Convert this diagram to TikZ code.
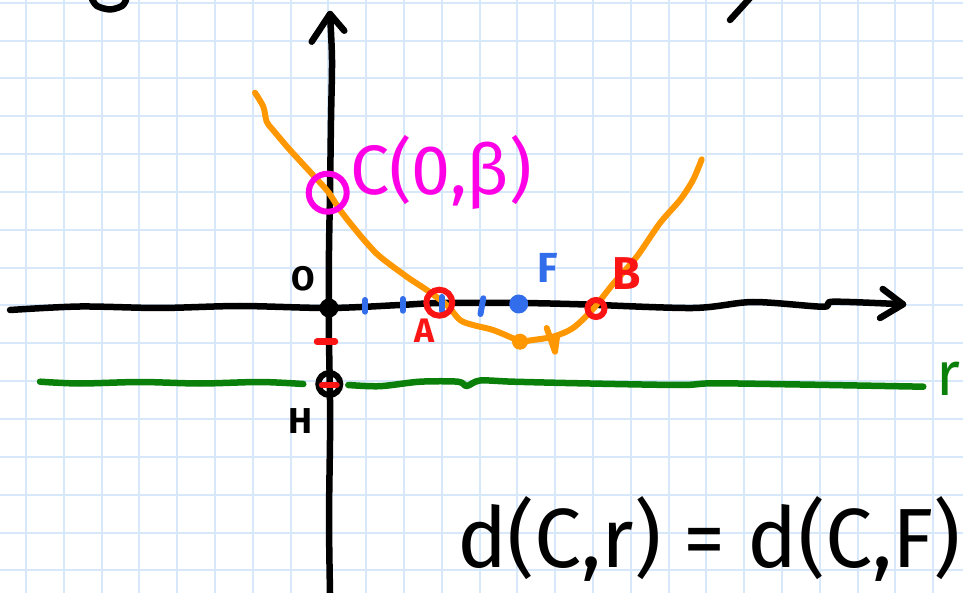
\documentclass[tikz,border=0pt]{standalone}
\usepackage{fontspec}
\setmainfont{Fira Sans}
\definecolor{gridc}{RGB}{214,232,250}
\definecolor{orng}{RGB}{255,152,0}
\definecolor{magc}{RGB}{255,0,230}
\definecolor{bluec}{RGB}{50,110,235}
\definecolor{redc}{RGB}{250,20,20}
\definecolor{greenc}{RGB}{10,128,10}
\tikzset{
  ink/.style={line width=6.5pt, line cap=round, line join=round},
  lbl/.style={inner sep=0pt, outer sep=0pt},
}
\begin{document}
\begin{tikzpicture}[x=1pt,y=-1pt]
\useasboundingbox (0,0) rectangle (963,593);
\fill[white] (0,0) rectangle (963,593);
% grid
\foreach \k in {0,...,24} {\draw[gridc, line width=2pt] ({26+37.8*\k},0) -- ({26+37.8*\k},593);}
\foreach \k in {0,...,15} {\draw[gridc, line width=2pt] (0,{2.7+37.85*\k}) -- (963,{2.7+37.85*\k});}
% stray strokes at top
\draw[ink,black] plot[smooth] coordinates {(92,-1) (97,6) (110,9.5) (122,6) (126,0)};
\draw[ink,black] (730,20) -- (750,-2);
% y axis
\coordinate (ytip) at (330,14);
\draw[ink,black] plot[smooth] coordinates {(330,593) (329,520) (330,440) (330,400) (329,340) (329,308) (329,250) (330,193) (331,120) (332,60) (ytip)};
\draw[ink,black] (311.7,41.7) -- (ytip) -- (344.3,30.7);
% x axis
\coordinate (xtip) at (903,304.3);
\draw[ink,black] plot[smooth] coordinates {(10,310) (80,306.5) (160,308) (240,306) (329,308) (400,305) (440,303) (520,303) (580,304.3) (693,308) (753,302) (823,306.7) (833,301.7) (xtip)};
\draw[ink,black] (882.7,289) -- (xtip) -- (880,318);
% green line r
\draw[ink,greenc] plot[smooth] coordinates {(40,381.7) (80,383.5) (140,382) (200,383.5) (260,382) (303.3,384)};
\draw[ink,greenc] plot[smooth] coordinates {(348.3,385) (380,386.2) (420,381.7) (458,381.7) (466.7,386) (480,380.5) (513,381.7) (580,383.3) (680,385) (713,383.3) (800,384.5) (923.3,386.7)};
% orange parabola
\draw[ink,orng,line width=6pt] plot[smooth] coordinates {(255,92.7) (263.3,106.7) (266.7,121.7) (273,130) (290,150) (313,175) (328,191.7) (340,210) (353,226.7) (366.7,243) (380,256.7) (406.7,276.7) (426.7,290) (446.7,305) (460,320) (473,325) (493,330) (513,338.3) (520,341.7) (533,340) (553,336.7) (573,328) (593,309) (613,284) (636.7,256.7) (660,223) (680,200) (693,180) (701.7,159.3)};
\draw[ink,orng,line width=6pt] (546.7,328) -- (555,351.7) -- (557,337);
\node[circle, fill=orng, minimum size=16pt, inner sep=0pt] (V) at (520,341.7) {};
% magenta circle C
\node[circle, draw=magc, line width=6pt, minimum size=38pt, inner sep=0pt] (C) at (327.7,192.7) {};
% blue ticks and F
\draw[ink,bluec,line width=6pt] (365,300) -- (365,311.7);
\draw[ink,bluec,line width=6pt] (402.7,299) -- (402.7,310.7);
\draw[ink,bluec,line width=6pt] (441.7,297) -- (441.7,310.7);
\draw[ink,bluec,line width=6pt] (483.3,298.3) -- (480.5,314);
\node[circle, fill=bluec, minimum size=19pt, inner sep=0pt] (F) at (518.7,304) {};
% origin
\node[circle, fill=black, minimum size=19pt, inner sep=0pt] (O) at (329,308) {};
% red circles A and B
\node[circle, draw=redc, line width=6pt, minimum size=26pt, inner sep=0pt] (A) at (439.3,302.7) {};
\node[circle, draw=redc, line width=6pt, minimum size=17pt, inner sep=0pt] (B) at (596,308.5) {};
% red dashes and H
\draw[ink,redc] (317,341.7) -- (335,341.7);
\node[circle, draw=black, line width=6pt, minimum size=22pt, inner sep=0pt] (H) at (329.3,384) {};
\draw[ink,redc] (322,385) -- (336.5,385);
% labels
\node[lbl, font=\fontsize{34}{34}\selectfont\bfseries] (Olbl) at (303,279) {O};
\node[lbl, font=\fontsize{36}{36}\selectfont\bfseries] (Hlbl) at (300,421) {H};
\node[lbl, font=\fontsize{34}{34}\selectfont\bfseries, text=redc] (Albl) at (425,331) {A};
\node[lbl, font=\fontsize{46}{46}\selectfont\bfseries, text=redc] (Blbl) at (626.5,273.5) {B};
\node[lbl, font=\fontsize{42}{42}\selectfont\bfseries, text=bluec] (Flbl) at (548,268) {F};
\node[lbl, font=\fontsize{62}{62}\selectfont, text=greenc, anchor=base west] (rlbl) at (936,395) {r};
\node[lbl, font=\fontsize{70}{70}\selectfont, text=magc, anchor=base west] (Clbl) at (350,195) {C(0,β)};
\node[lbl, font=\fontsize{84}{84}\selectfont, anchor=base west] (eq) at (457,567) {d(C,r) = d(C,F)};
\end{tikzpicture}
\end{document}
